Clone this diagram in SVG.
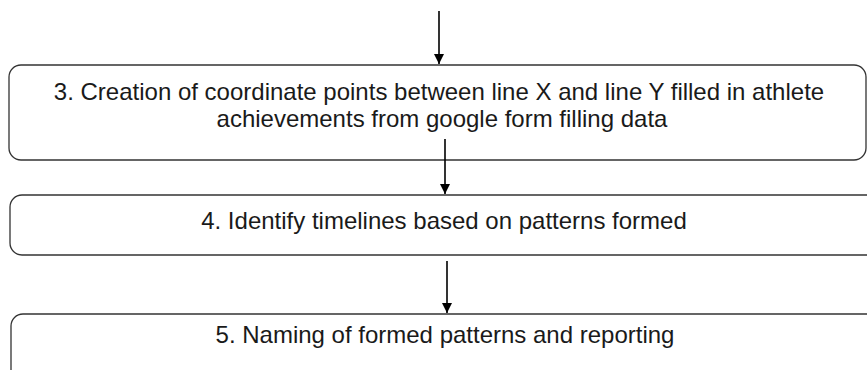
<svg xmlns="http://www.w3.org/2000/svg" width="867" height="370" viewBox="0 0 867 370">
<defs>
<marker id="ah" markerWidth="10" markerHeight="10" refX="10" refY="5" orient="auto" markerUnits="userSpaceOnUse">
<path d="M0,0 L10,5 L0,10 Z" fill="#000"/>
</marker>
<style>
.box{fill:#fff;stroke:#333;stroke-width:1.3}
.lbl{font-family:"Liberation Sans",Arial,sans-serif;font-size:24px;fill:#1a1a1a;text-anchor:middle}
.con{stroke:#000;stroke-width:1.6;fill:none;marker-end:url(#ah)}
</style>
</defs>
<rect width="867" height="370" fill="#fff"/>
<g id="node3">
<rect class="box" x="9" y="65" width="857" height="95" rx="12"/>
<text class="lbl" x="439" y="100">3. Creation of coordinate points between line X and line Y filled in athlete</text>
<text class="lbl" x="442" y="127">achievements from google form filling data</text>
</g>
<g id="node4">
<rect class="box" x="10" y="195" width="870" height="60" rx="12"/>
<text class="lbl" x="444" y="229">4. Identify timelines based on patterns formed</text>
</g>
<g id="node5">
<rect class="box" x="11" y="314" width="870" height="70" rx="12"/>
<text class="lbl" x="445" y="343">5. Naming of formed patterns and reporting</text>
</g>
<g id="connectors">
<line class="con" x1="439" y1="11" x2="439" y2="64"/>
<line class="con" x1="445" y1="139" x2="445" y2="194"/>
<line class="con" x1="447" y1="261" x2="447" y2="313"/>
</g>
</svg>
